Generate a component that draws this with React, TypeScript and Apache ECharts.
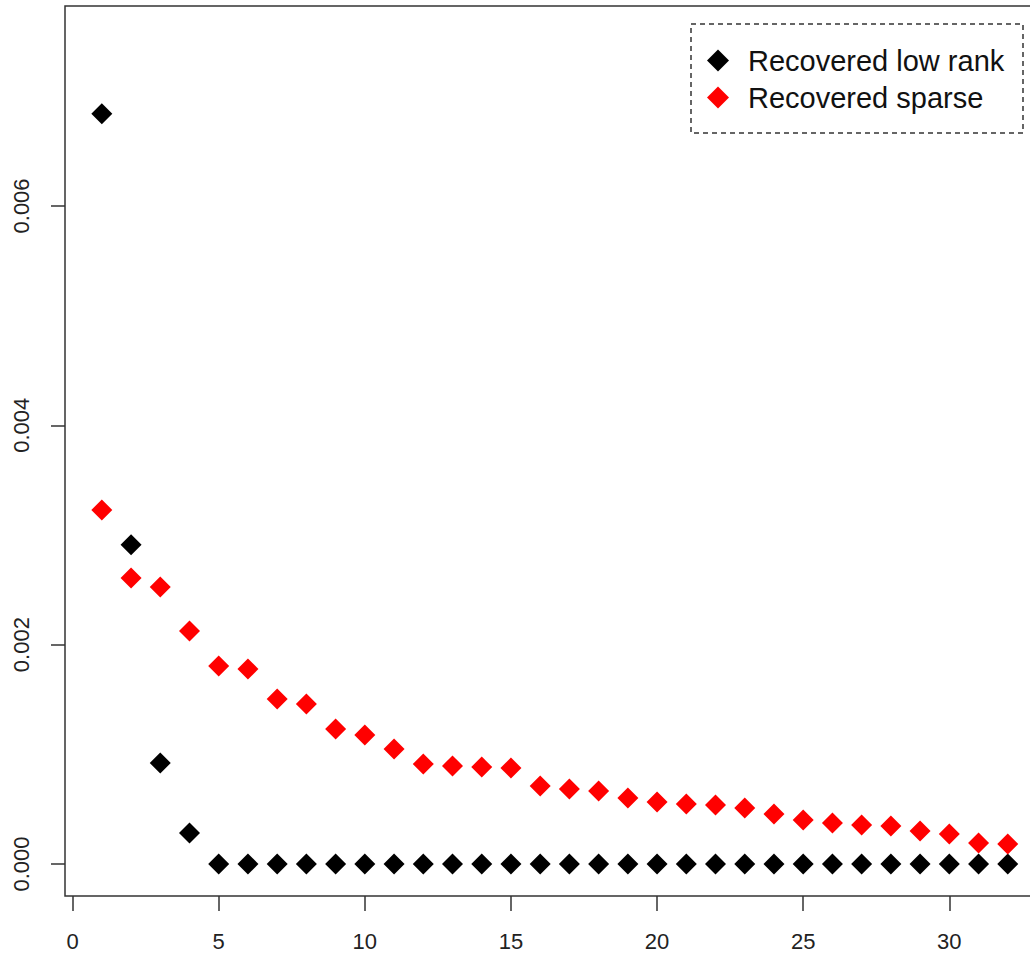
import React, { useEffect, useRef } from "react";
import * as echarts from "echarts";

const indices = Array.from({ length: 32 }, (_, i) => i + 1);
const lowRank = [
  0.00684, 0.00291, 0.000921, 0.000283, 0, 0, 0, 0, 0, 0, 0, 0, 0, 0, 0, 0,
  0, 0, 0, 0, 0, 0, 0, 0, 0, 0, 0, 0, 0, 0, 0, 0,
];
const sparse = [
  0.003228, 0.002608, 0.002526, 0.002125, 0.001805, 0.001778, 0.001505,
  0.001459, 0.001231, 0.001176, 0.001049, 0.000912, 0.000894, 0.000884,
  0.000875, 0.000711, 0.000684, 0.000666, 0.000602, 0.000565, 0.000547,
  0.000538, 0.000511, 0.000456, 0.000401, 0.000374, 0.000356, 0.000347,
  0.000301, 0.000274, 0.000191, 0.000182,
];
const xTicks = [0, 5, 10, 15, 20, 25, 30];
const yTicks = [0, 0.002, 0.004, 0.006];
const seriesNames = ["Recovered low rank", "Recovered sparse"];

export default function App() {
  const ref = useRef<HTMLDivElement>(null);
  useEffect(() => {
    if (!ref.current) return;
    const chart = echarts.init(ref.current, null, { renderer: "svg" });
    const font = "Liberation Sans, Arial, Helvetica, sans-serif";
    chart.setOption({
      animation: false,
      backgroundColor: "#ffffff",
      grid: {
        left: 65,
        top: 6,
        right: 0,
        bottom: 60,
        show: true,
        borderColor: "#333",
        borderWidth: 1.5,
        containLabel: false,
      },
      xAxis: {
        type: "value",
        min: -0.26,
        max: 33.24,
        axisLine: { show: false, onZero: false },
        splitLine: { show: false },
        axisTick: {
          show: true,
          length: 15,
          customValues: xTicks,
          lineStyle: { color: "#333", width: 1.5 },
        },
        axisLabel: {
          customValues: xTicks,
          fontSize: 22,
          fontFamily: font,
          color: "#222",
          margin: 34,
        },
      },
      yAxis: {
        type: "value",
        min: -0.000292,
        max: 0.007823,
        axisLine: { show: false, onZero: false },
        splitLine: { show: false },
        axisTick: {
          show: true,
          length: 14,
          customValues: yTicks,
          lineStyle: { color: "#333", width: 1.5 },
        },
        axisLabel: {
          customValues: yTicks,
          rotate: 90,
          fontSize: 22,
          fontFamily: font,
          color: "#222",
          margin: 33,
          formatter: (v: number) => v.toFixed(3),
        },
      },
      legend: {
        orient: "vertical",
        left: 707,
        top: 46,
        padding: 0,
        itemGap: 8,
        itemWidth: 22,
        itemHeight: 22,
        icon: "diamond",
        data: seriesNames,
        textStyle: {
          fontSize: 29,
          lineHeight: 22,
          fontFamily: font,
          color: "#111",
          padding: [0, 0, 0, 14],
        },
      },
      graphic: [
        {
          type: "rect",
          shape: { x: 691, y: 24, width: 332, height: 109 },
          style: {
            fill: "none",
            stroke: "#333",
            lineWidth: 1.5,
            lineDash: [5, 4],
          },
          silent: true,
        },
      ],
      series: [
        {
          name: seriesNames[0],
          type: "scatter",
          symbol: "diamond",
          symbolSize: 21,
          itemStyle: { color: "#000000", opacity: 1 },
          data: indices.map((x, i) => [x, lowRank[i]]),
        },
        {
          name: seriesNames[1],
          type: "scatter",
          symbol: "diamond",
          symbolSize: 21,
          itemStyle: { color: "#ff0000", opacity: 1 },
          data: indices.map((x, i) => [x, sparse[i]]),
        },
      ],
    });
    return () => chart.dispose();
  }, []);
  return (
    <div
      style={{
        position: "absolute",
        left: 0,
        top: 0,
        width: 1030,
        height: 956,
        overflow: "hidden",
        background: "#ffffff",
      }}
    >
      <div ref={ref} style={{ width: 1044, height: 956 }} />
    </div>
  );
}
